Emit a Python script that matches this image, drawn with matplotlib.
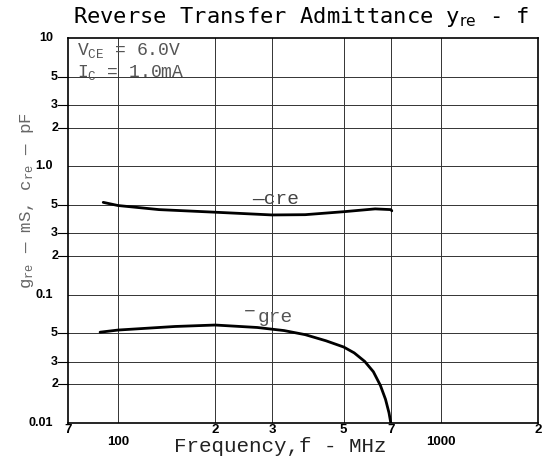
import matplotlib
matplotlib.use("Agg")
import matplotlib.pyplot as plt

plt.rcParams['mathtext.fontset'] = 'custom'
plt.rcParams['mathtext.rm'] = 'Liberation Mono'
plt.rcParams['mathtext.it'] = 'Liberation Mono'

# ---- data ----
cre_freq = [90, 100, 134, 200, 300, 380, 500, 626, 700, 705]
cre_vals = [0.524, 0.495, 0.46, 0.439, 0.418, 0.42, 0.443, 0.466, 0.46, 0.45]

gre_freq = [88, 100, 150, 200, 270, 327, 380, 441, 500, 539, 581, 618, 650,
            674, 691, 700]
gre_vals = [0.051, 0.053, 0.0565, 0.058, 0.0555, 0.0525, 0.0488, 0.0437, 0.0391,
            0.0352, 0.0302, 0.0251, 0.0196, 0.0153, 0.012, 0.010]

x_ticks = [70, 100, 200, 300, 500, 700, 1000, 2000]
x_labels = ["7", "100", "2", "3", "5", "7", "1000", "2"]
y_ticks = [0.01, 0.02, 0.03, 0.05, 0.1, 0.2, 0.3, 0.5, 1.0, 2, 3, 5, 10]
y_labels = ["0.01", "2", "3", "5", "0.1", "2", "3", "5", "1.0", "2", "3", "5", "10"]
x_grid = [100, 200, 300, 500, 700, 1000]

fig = plt.figure(figsize=(5.52, 4.68), dpi=100)
ax = fig.add_axes([68/552, 1-423/468, 470/552, 385/468])
ax.set_xscale('log')
ax.set_yscale('log')
ax.set_xlim(70, 2000)
ax.set_ylim(0.01, 10)

for g in x_grid:
    ax.axvline(g, color='#333333', lw=0.7, zorder=1)
for g in y_ticks[1:-1]:
    ax.axhline(g, color='#333333', lw=0.7, zorder=1)

ax.plot(cre_freq, cre_vals, color='black', lw=2.0, solid_capstyle='round',
        solid_joinstyle='round', zorder=3)
ax.plot(gre_freq, gre_vals, color='black', lw=2.0, solid_capstyle='round',
        solid_joinstyle='round', zorder=3)

for s in ax.spines.values():
    s.set_linewidth(1.2)

ax.set_xticks([])
ax.set_yticks([])
ax.xaxis.set_minor_locator(matplotlib.ticker.NullLocator())
ax.yaxis.set_minor_locator(matplotlib.ticker.NullLocator())

xt = ax.get_xaxis_transform()
for v, lab in zip(x_ticks, x_labels):
    low = lab in ("100", "1000")
    ax.text(v, -0.034 if low else -0.002, lab, transform=xt, ha='center', va='top',
            fontsize=9.5, fontweight='bold', family='Liberation Sans', clip_on=False)

yt = ax.get_yaxis_transform()
for v, lab in zip(y_ticks, y_labels):
    dec = len(lab) > 1
    ax.text(-0.032 if dec else -0.021, v, lab, transform=yt, ha='right', va='center',
            fontsize=9, fontweight='bold', family='Liberation Sans', clip_on=False)
    if not dec:
        ax.plot([-0.021, 0], [v, v], transform=yt, color='black', lw=0.8, clip_on=False)

fig.text(301/552, 1-17/468, r"Reverse Transfer Admittance y$_{\mathrm{re}}$ - f",
         ha='center', va='center', fontsize=15.9, family='DejaVu Sans Mono',
         math_fontfamily='dejavusans')

fig.text(280/552, 1-446/468, "Frequency,f - MHz", ha='center', va='center',
         fontsize=15, family='Liberation Mono', color='#222222')

fig.text(27/552, 1-200/468, r"g$_{\mathrm{re}}$ — mS, c$_{\mathrm{re}}$ — pF",
         ha='center', va='center', rotation=90, fontsize=12.5,
         family='Liberation Mono', color='#666666')

fig.text(77/552, 1-51/468, r"V$_{\mathrm{CE}}$ = 6.0V", ha='left', va='center',
         fontsize=13, family='Liberation Mono', color='#555555')
fig.text(77/552, 1-72/468, r"I$_{\mathrm{C}}$ = 1.0mA", ha='left', va='center',
         fontsize=13, family='Liberation Mono', color='#555555')

fig.text(252/552, 1-200/468, "—cre", ha='left', va='center',
         fontsize=14, family='Liberation Mono', color='#444444')
fig.text(244/552, 1-312/468, "−", ha='left', va='center',
         fontsize=14, family='Liberation Mono', color='#555555')
fig.text(258/552, 1-318/468, "gre", ha='left', va='center',
         fontsize=14, family='Liberation Mono', color='#555555')

fig.savefig("out.png", dpi=100)
